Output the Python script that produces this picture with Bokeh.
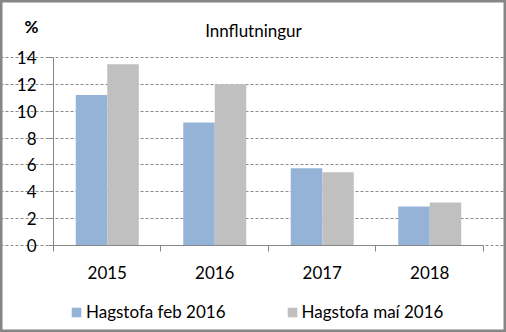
from bokeh.plotting import figure
from bokeh.models import (ColumnDataSource, Range1d, FixedTicker, Label, Legend, LegendItem)
from bokeh.embed import file_html
from bokeh.resources import INLINE

years = ["2015", "2016", "2017", "2018"]
feb_2016 = [11.2, 9.15, 5.75, 2.9]
mai_2016 = [13.5, 12.0, 5.45, 3.2]
series_names = ["Hagstofa feb 2016", "Hagstofa maí 2016"]
y_ticks = [0, 2, 4, 6, 8, 10, 12, 14]

FONT = "Lato"
FS = "17px"
BAR_W = 0.293
idx = list(range(len(years)))
src = ColumnDataSource(dict(
    x_feb=[i + 0.5 - BAR_W / 2 for i in idx],
    x_mai=[i + 0.5 + BAR_W / 2 for i in idx],
    feb=feb_2016, mai=mai_2016,
))

# frame covers the whole canvas; axes are drawn at fixed locations inside it
p = figure(width=506, height=332, output_backend="svg", toolbar_location=None,
           x_range=Range1d(-0.493, 4.214), y_range=Range1d(-6.478, 18.243),
           min_border=0)
p.outline_line_color = "#868686"
p.outline_line_width = 4
p.background_fill_color = "white"
p.border_fill_color = "white"

r1 = p.vbar(x="x_feb", top="feb", width=BAR_W, source=src, fill_color="#95B3D7", line_color=None)
r2 = p.vbar(x="x_mai", top="mai", width=BAR_W, source=src, fill_color="#C0C0C0", line_color=None)

# axes
xa = p.xaxis[0]
xa.fixed_location = 0
xa.bounds = (0, len(years))
xa.ticker = FixedTicker(ticks=[i + 0.5 for i in idx], minor_ticks=[float(i) for i in range(len(years) + 1)])
xa.major_label_overrides = {i + 0.5: y for i, y in zip(idx, years)}
xa.major_tick_out = 0
xa.major_tick_in = 0
xa.minor_tick_out = 6
xa.minor_tick_in = 0
xa.minor_tick_line_color = "#868686"
xa.axis_line_color = "#868686"
xa.major_label_standoff = 14
xa.major_label_text_font = FONT
xa.major_label_text_font_size = FS
xa.major_label_text_color = "#000000"

ya = p.yaxis[0]
ya.fixed_location = 0
ya.bounds = (0, 14)
ya.ticker = FixedTicker(ticks=y_ticks)
ya.major_tick_out = 5
ya.major_tick_in = 0
ya.minor_tick_line_color = None
ya.major_tick_line_color = "#868686"
ya.axis_line_color = "#868686"
ya.major_label_standoff = 12
ya.major_label_text_font = FONT
ya.major_label_text_font_size = FS
ya.major_label_text_color = "#000000"

p.xgrid.grid_line_color = None
p.ygrid.grid_line_color = "#8a8a8a"
p.ygrid.grid_line_dash = "3 2"
p.ygrid.grid_line_width = 1
p.ygrid.ticker = FixedTicker(ticks=y_ticks)
p.ygrid.bounds = (0, len(years))

p.add_layout(Label(x=1.86, y=16.0, text="Innflutningur", text_align="center", text_baseline="middle",
                   text_font=FONT, text_font_size=FS, text_color="#000000"))
p.add_layout(Label(x=-0.205, y=16.3, text="%", text_align="center", text_baseline="middle",
                   text_font=FONT, text_font_size=FS, text_font_style="bold", text_color="#000000"))

legend = Legend(items=[LegendItem(label=series_names[0], renderers=[r1]),
                       LegendItem(label=series_names[1], renderers=[r2])],
                location=(70, 10), orientation="horizontal", spacing=60,
                glyph_width=12, glyph_height=12, label_standoff=4, padding=0, margin=0,
                border_line_color=None, background_fill_alpha=0,
                label_text_font=FONT, label_text_font_size=FS, label_text_color="#000000")
p.add_layout(legend, "center")

open("out.html", "w").write(file_html(p, INLINE))
